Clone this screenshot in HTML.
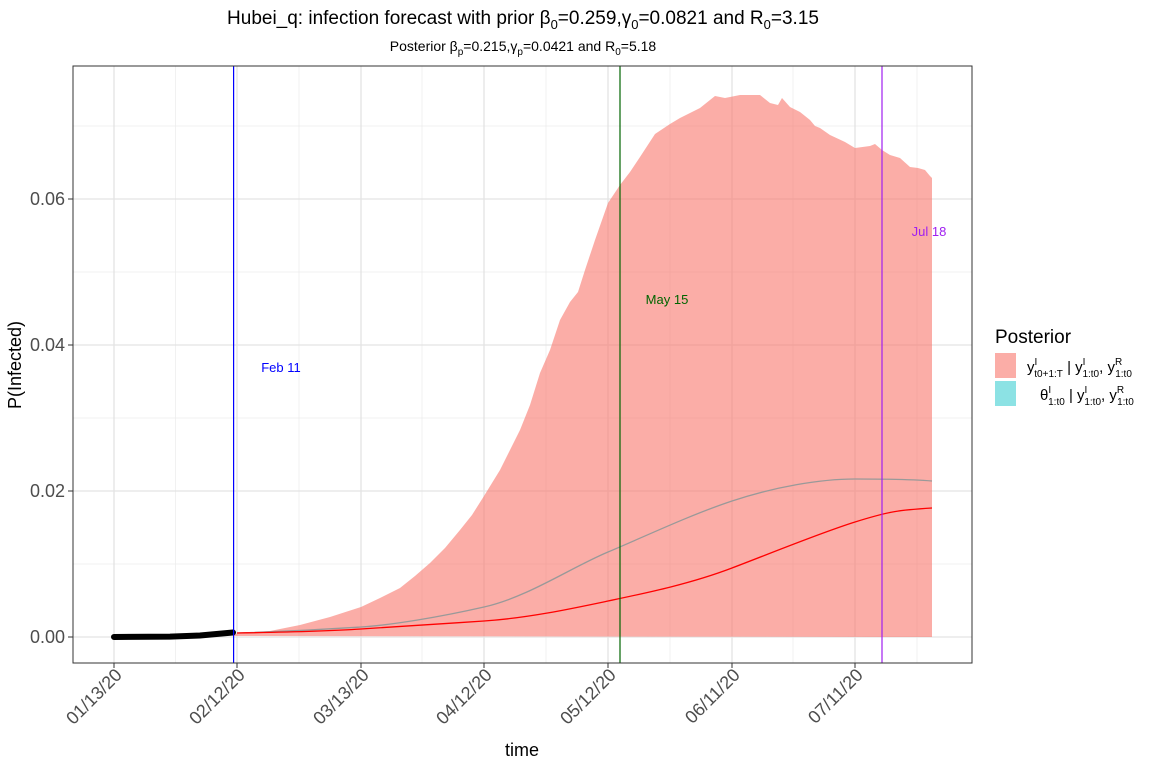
<!DOCTYPE html><html><head><meta charset="utf-8"><style>body{margin:0;background:#fff}svg{display:block;font-family:"Liberation Sans",sans-serif}</style></head><body>
<svg width="1152" height="768" viewBox="0 0 1152 768">
<rect x="73" y="66" width="899" height="597" fill="#fff"/>
<g stroke="#ebebeb" stroke-width="0.7">
<line x1="73" x2="972" y1="564" y2="564"/><line x1="73" x2="972" y1="418" y2="418"/><line x1="73" x2="972" y1="272" y2="272"/><line x1="73" x2="972" y1="126" y2="126"/>
<line y1="66" y2="663" x1="175.5" x2="175.5"/><line y1="66" y2="663" x1="299" x2="299"/><line y1="66" y2="663" x1="422" x2="422"/><line y1="66" y2="663" x1="546" x2="546"/><line y1="66" y2="663" x1="670" x2="670"/><line y1="66" y2="663" x1="793" x2="793"/><line y1="66" y2="663" x1="917" x2="917"/>
</g>
<g stroke="#e3e3e3" stroke-width="1.3">
<line x1="73" x2="972" y1="637" y2="637"/><line x1="73" x2="972" y1="491" y2="491"/><line x1="73" x2="972" y1="345" y2="345"/><line x1="73" x2="972" y1="199" y2="199"/>
<line y1="66" y2="663" x1="114" x2="114"/><line y1="66" y2="663" x1="237" x2="237"/><line y1="66" y2="663" x1="361" x2="361"/><line y1="66" y2="663" x1="484" x2="484"/><line y1="66" y2="663" x1="608" x2="608"/><line y1="66" y2="663" x1="732" x2="732"/><line y1="66" y2="663" x1="855" x2="855"/>
</g>
<path fill="#F8766D" fill-opacity="0.6" d="M233,634 L270,631 300,625 330,617 361,607 380,598 400,588 415,576 430,563 445,548 460,530 472,515 484,496 500,470 510,450 520,430 530,405 540,373 550,350 560,320 570,302 578,292 585,270 595,240 608,203 620,185 630,172 640,157 655,134 670,124 680,118 700,108 715,96 725,98 740,95 760,95 770,103 778,105 782,98 790,107 800,112 810,120 815,126 820,128 830,135 845,142 855,148 870,146 875,144 882,150 890,155 900,158 910,167 918,168 925,170 930,176 932,178 L932,637 L233,636 Z"/>
<path fill="none" stroke="#999" stroke-width="1.3" d="M237,633 C300,631 330,629 361,627 S440,617 484,607 S570,568 608,552 S690,515 732,501 S820,479 855,479 S920,480 932,481"/>
<path fill="none" stroke="#f00" stroke-width="1.3" d="M237,633 C300,632 330,631 361,629 S440,624 484,621 S570,609 608,601 S690,584 732,568 S820,533 855,522 S900,510 932,508"/>
<path d="M114,637 L170,636.6 200,635.5 233,632.5" stroke="#000" stroke-width="6" stroke-linecap="round" fill="none"/>
<line x1="233.6" x2="233.6" y1="66" y2="663" stroke="#00f" stroke-width="1.2"/>
<line x1="620" x2="620" y1="66" y2="663" stroke="#006400" stroke-width="1.2"/>
<line x1="882" x2="882" y1="66" y2="663" stroke="#a020f0" stroke-width="1.2"/>
<text x="281" y="372" font-size="13" fill="#00f" text-anchor="middle">Feb 11</text>
<text x="667" y="304" font-size="13" fill="#006400" text-anchor="middle">May 15</text>
<text x="929" y="236" font-size="13" fill="#a020f0" text-anchor="middle">Jul 18</text>
<rect x="73" y="66" width="899" height="597" fill="none" stroke="#333" stroke-width="1"/>
<g stroke="#333"><line x1="68" x2="73" y1="637" y2="637"/><line x1="68" x2="73" y1="491" y2="491"/><line x1="68" x2="73" y1="345" y2="345"/><line x1="68" x2="73" y1="199" y2="199"/>
<line x1="114" x2="114" y1="663" y2="668"/><line x1="237" x2="237" y1="663" y2="668"/><line x1="361" x2="361" y1="663" y2="668"/><line x1="484" x2="484" y1="663" y2="668"/><line x1="608" x2="608" y1="663" y2="668"/><line x1="732" x2="732" y1="663" y2="668"/><line x1="855" x2="855" y1="663" y2="668"/></g>
<g font-size="18" fill="#4d4d4d" text-anchor="end">
<text x="65" y="643">0.00</text><text x="65" y="497">0.02</text><text x="65" y="351">0.04</text><text x="65" y="205">0.06</text>
<text transform="translate(123,676) rotate(-45)">01/13/20</text>
<text transform="translate(246,676) rotate(-45)">02/12/20</text>
<text transform="translate(370,676) rotate(-45)">03/13/20</text>
<text transform="translate(493,676) rotate(-45)">04/12/20</text>
<text transform="translate(617,676) rotate(-45)">05/12/20</text>
<text transform="translate(741,676) rotate(-45)">06/11/20</text>
<text transform="translate(864,676) rotate(-45)">07/11/20</text>
</g>
<text x="522" y="756" font-size="18" text-anchor="middle">time</text>
<text transform="translate(21,365) rotate(-90)" font-size="18" text-anchor="middle">P(Infected)</text>
<text x="523" y="24" font-size="19" text-anchor="middle">Hubei_q: infection forecast with prior β<tspan font-size="13" dy="5">0</tspan><tspan dy="-5">=0.259,γ</tspan><tspan font-size="13" dy="5">0</tspan><tspan dy="-5">=0.0821 and R</tspan><tspan font-size="13" dy="5">0</tspan><tspan dy="-5">=3.15</tspan></text>
<text x="523" y="51" font-size="14" text-anchor="middle">Posterior β<tspan font-size="10" dy="4">p</tspan><tspan dy="-4">=0.215,γ</tspan><tspan font-size="10" dy="4">p</tspan><tspan dy="-4">=0.0421 and R</tspan><tspan font-size="10" dy="4">0</tspan><tspan dy="-4">=5.18</tspan></text>
<text x="995" y="343" font-size="19">Posterior</text>
<rect x="995" y="353" width="21" height="25" fill="#F8766D" fill-opacity="0.6"/>
<rect x="995" y="381" width="21" height="25" fill="#00BFC4" fill-opacity="0.45"/>
<g font-size="15"><text x="1027" y="372">y<tspan font-size="10" dy="-7">I</tspan><tspan font-size="10" dx="-3" dy="12">t0+1:T</tspan><tspan dy="-5"> | y</tspan><tspan font-size="10" dy="-7">I</tspan><tspan font-size="10" dx="-3" dy="12">1:t0</tspan><tspan dy="-5">, y</tspan><tspan font-size="10" dy="-7">R</tspan><tspan font-size="10" dx="-7" dy="12">1:t0</tspan></text>
<text x="1040" y="400">θ<tspan font-size="10" dy="-7">I</tspan><tspan font-size="10" dx="-3" dy="12">1:t0</tspan><tspan dy="-5"> | y</tspan><tspan font-size="10" dy="-7">I</tspan><tspan font-size="10" dx="-3" dy="12">1:t0</tspan><tspan dy="-5">, y</tspan><tspan font-size="10" dy="-7">R</tspan><tspan font-size="10" dx="-7" dy="12">1:t0</tspan></text></g>
</svg></body></html>
